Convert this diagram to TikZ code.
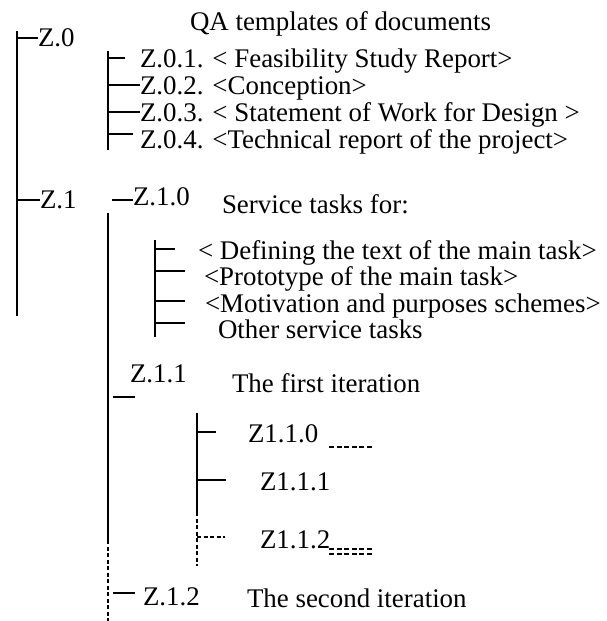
\documentclass[tikz,border=0pt]{standalone}
\usepackage{fontspec}
\setmainfont{Liberation Serif}
\tikzset{
  lbl/.style={anchor=base west, inner sep=0pt, outer sep=0pt, font=\fontsize{26.9}{30}\selectfont},
  ln/.style={line width=1.3pt},
  dln/.style={line width=1.3pt, dash pattern=on 4pt off 2.5pt},
  ul/.style={line width=1.1pt, dash pattern=on 5pt off 2.6pt},
}
\begin{document}
\begin{tikzpicture}[x=1pt,y=-1pt]
\useasboundingbox[fill=white] (0,0) rectangle (607,621);
% texts
\node[lbl] (qa) at (190,30) {QA templates of documents};
\node[lbl] (z0) at (38,46) {Z.0};
\node[lbl] (z01) at (140,67) {Z.0.1. < Feasibility Study Report>};
\node[lbl] (z02) at (140,94) {Z.0.2. <Conception>};
\node[lbl] (z03) at (140,121) {Z.0.3. < Statement of Work for Design >};
\node[lbl] (z04) at (140,148) {Z.0.4. <Technical report of the project>};
\node[lbl] (z1) at (40,208) {Z.1};
\node[lbl] (z10) at (133,205) {Z.1.0};
\node[lbl] (serv) at (222,213) {Service tasks for:};
\node[lbl] (def) at (198,259) {< Defining the text of the main task>};
\node[lbl] (proto) at (204,285) {<Prototype of the main task>};
\node[lbl] (motiv) at (205,312) {<Motivation and purposes schemes>};
\node[lbl] (other) at (218,338) {Other service tasks};
\node[lbl] (z11) at (130,382) {Z.1.1};
\node[lbl] (first) at (232,392) {The first iteration};
\node[lbl] (z110) at (248,442) {Z1.1.0};
\node[lbl] (z111) at (260,490) {Z1.1.1};
\node[lbl] (z112) at (260,548) {Z1.1.2};
\node[lbl] (z12) at (143,605) {Z.1.2};
\node[lbl] (second) at (247,607) {The second iteration};
% main trunk
\coordinate (a0) at (17,31); \coordinate (a1) at (17,316);
\coordinate (t0) at (17,38); \coordinate (t0e) at (38,38);
\coordinate (t1) at (17,200); \coordinate (t1e) at (40,200);
\draw[ln] (a0) -- (a1);
\draw[ln] (t0) -- (t0e);
\draw[ln] (t1) -- (t1e);
% Z.0 branch
\coordinate (b0) at (108,51); \coordinate (b1) at (108,150);
\draw[ln] (b0) -- (b1);
\coordinate (b01) at (108,58); \coordinate (b01e) at (125,58);
\coordinate (b02) at (108,85); \coordinate (b02e) at (140,85);
\coordinate (b03) at (108,112); \coordinate (b03e) at (140,112);
\coordinate (b04) at (108,134); \coordinate (b04e) at (133,134);
\draw[ln] (b01) -- (b01e);
\draw[ln] (b02) -- (b02e);
\draw[ln] (b03) -- (b03e);
\draw[ln] (b04) -- (b04e);
% Z.1 branch
\coordinate (c10) at (112,200); \coordinate (c10e) at (133,200);
\draw[ln] (c10) -- (c10e);
\coordinate (c0) at (108,213); \coordinate (cm) at (108,540); \coordinate (c1) at (108,621);
\draw[ln] (c0) -- (cm);
\draw[dln] (cm) -- (c1);
% service tasks
\coordinate (s0) at (155,240); \coordinate (s1) at (155,337);
\draw[ln] (s0) -- (s1);
\coordinate (s1a) at (155,249); \coordinate (s1b) at (175,249);
\coordinate (s2a) at (155,271); \coordinate (s2b) at (185,271);
\coordinate (s3a) at (155,301); \coordinate (s3b) at (185,301);
\coordinate (s4a) at (155,323); \coordinate (s4b) at (185,323);
\draw[ln] (s1a) -- (s1b);
\draw[ln] (s2a) -- (s2b);
\draw[ln] (s3a) -- (s3b);
\draw[ln] (s4a) -- (s4b);
% Z.1.1
\coordinate (z11a) at (113,397); \coordinate (z11b) at (135,397);
\draw[ln] (z11a) -- (z11b);
\coordinate (i0) at (197,413); \coordinate (im) at (197,512); \coordinate (i1) at (197,566);
\draw[ln] (i0) -- (im);
\draw[dln] (im) -- (i1);
\coordinate (i1a) at (197,432); \coordinate (i1b) at (216,432);
\coordinate (i2a) at (197,480); \coordinate (i2b) at (226,480);
\coordinate (i3a) at (197,537); \coordinate (i3b) at (225,537);
\draw[ln] (i1a) -- (i1b);
\draw[ln] (i2a) -- (i2b);
\draw[dln] (i3a) -- (i3b);
% underline dashes
\coordinate (u1a) at (329,447); \coordinate (u1b) at (374,447);
\coordinate (u2a) at (329,549); \coordinate (u2b) at (374,549);
\coordinate (u3a) at (329,554); \coordinate (u3b) at (374,554);
\draw[ul] (u1a) -- (u1b);
\draw[ul] (u2a) -- (u2b);
\draw[ul] (u3a) -- (u3b);
% Z.1.2
\coordinate (z12a) at (113,593); \coordinate (z12b) at (135,593);
\draw[ln] (z12a) -- (z12b);
\end{tikzpicture}
\end{document}
